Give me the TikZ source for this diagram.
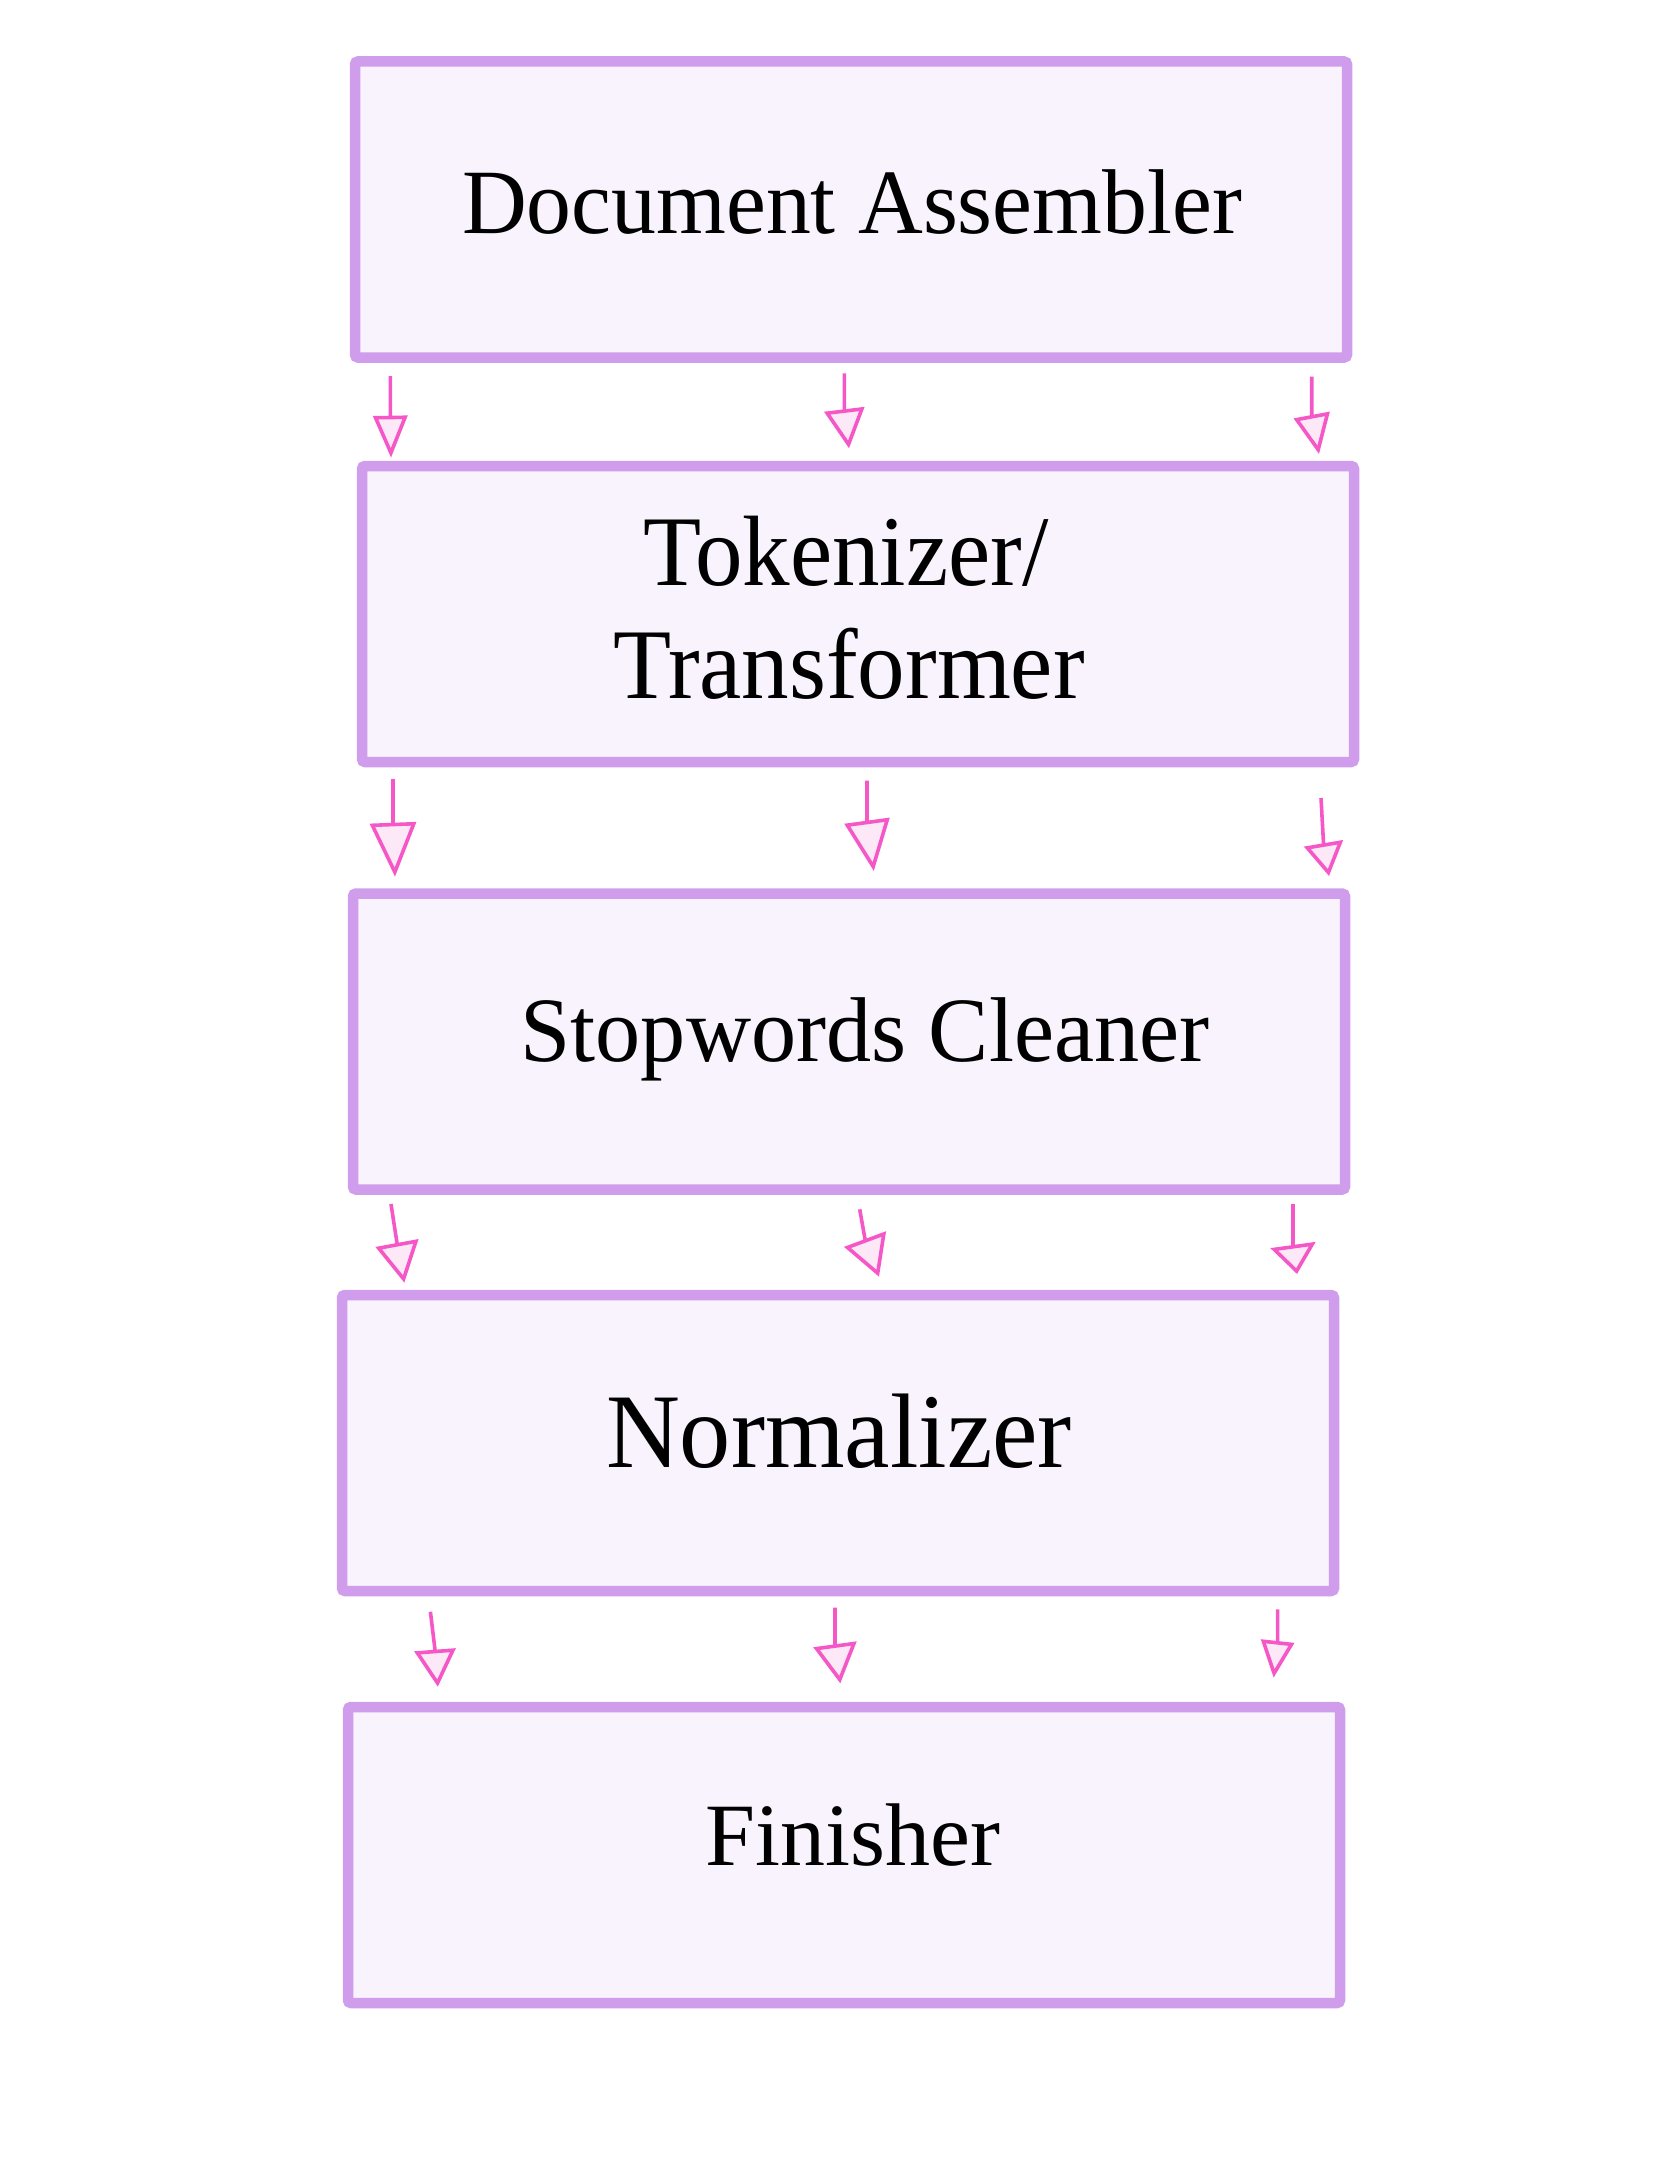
\documentclass[tikz,border=0pt]{standalone}
\usepackage{fontspec}
\usepackage{graphicx}
\setmainfont{Liberation Serif}
\usetikzlibrary{arrows.meta}
\definecolor{boxline}{RGB}{208,157,236}
\definecolor{boxfill}{RGB}{248,243,252}
\definecolor{arrowc}{RGB}{245,88,198}
\definecolor{arrowfill}{RGB}{252,232,246}
\tikzset{
  stagebox/.style={draw=boxline, fill=boxfill, line width=10.5pt, rounded corners=3pt,
    minimum width=992pt, minimum height=296pt, inner sep=0pt},
  lbl/.style={anchor=base, inner sep=0pt, text=black},
  flow/.style 2 args={draw=arrowc, line width=3.6pt,
    -{Triangle[length=#1pt, width=#2pt, fill=arrowfill]}}
}
\begin{document}
\begin{tikzpicture}[x=1pt,y=-1pt]
\useasboundingbox (0,0) rectangle (1668,2157);

% boxes
\node[stagebox] (b1) at (851,209.5) {};
\node[stagebox] (b2) at (858,614) {};
\node[stagebox] (b3) at (849,1041.5) {};
\node[stagebox] (b4) at (838,1443) {};
\node[stagebox] (b5) at (844,1855) {};

% labels
\node[lbl, font=\fontsize{92}{110}\selectfont] (t1) at (852,233) {\scalebox{0.975}[1]{Document Assembler}};
\node[lbl, font=\fontsize{100}{110}\selectfont] (t2a) at (846,585) {\scalebox{0.95}[1]{Tokenizer/}};
\node[lbl, font=\fontsize{100}{110}\selectfont] (t2b) at (849,698) {\scalebox{0.95}[1]{Transformer}};
\node[lbl, font=\fontsize{92}{110}\selectfont] (t3) at (865,1061) {\scalebox{0.98}[1]{Stopwords Cleaner}};
\node[lbl, font=\fontsize{106}{110}\selectfont] (t4) at (839,1467) {\scalebox{0.965}[1]{Normalizer}};
\node[lbl, font=\fontsize{89}{110}\selectfont] (t5) at (853,1865) {\scalebox{1.01}[1]{Finisher}};

% gap 1
\coordinate (a1s) at (390.3,376);  \coordinate (a1b) at (390.3,415.7); \coordinate (a1t) at (391,457.7);
\coordinate (a2s) at (844.3,373.3); \coordinate (a2b) at (844.3,409.3); \coordinate (a2t) at (849,448.3);
\coordinate (a3s) at (1311.7,376.7); \coordinate (a3b) at (1311.7,415); \coordinate (a3t) at (1319,454);
\draw[flow={42}{34}] (a1s) -- (a1b) -- (a1t);
\draw[flow={39.3}{40}] (a2s) -- (a2b) -- (a2t);
\draw[flow={39.7}{36}] (a3s) -- (a3b) -- (a3t);

% gap 2
\coordinate (c1s) at (393,779);  \coordinate (c1b) at (393,822.7); \coordinate (c1t) at (395,876.7);
\coordinate (c2s) at (867,780.7); \coordinate (c2b) at (867,820.7); \coordinate (c2t) at (873.8,871);
\coordinate (c3s) at (1321,798); \coordinate (c3b) at (1323.5,843.3); \coordinate (c3t) at (1329,876);
\draw[flow={54}{46}] (c1s) -- (c1b) -- (c1t);
\draw[flow={50.8}{45}] (c2s) -- (c2b) -- (c2t);
\draw[flow={33.2}{39}] (c3s) -- (c3b) -- (c3t);

% gap 3
\coordinate (e1s) at (391,1204);  \coordinate (e1b) at (397,1243); \coordinate (e1t) at (404.3,1282.7);
\coordinate (e2s) at (859.7,1209.3); \coordinate (e2b) at (865,1239); \coordinate (e2t) at (879,1276.7);
\coordinate (e3s) at (1293,1204); \coordinate (e3b) at (1293,1245); \coordinate (e3t) at (1297,1274);
\draw[flow={40.4}{43}] (e1s) -- (e1b) -- (e1t);
\draw[flow={40.2}{44}] (e2s) -- (e2b) -- (e2t);
\draw[flow={29.3}{45}] (e3s) -- (e3b) -- (e3t);

% gap 4
\coordinate (d1s) at (430.4,1611.7); \coordinate (d1b) at (435,1649.7); \coordinate (d1t) at (437.8,1686.7);
\coordinate (d2s) at (835,1607.7); \coordinate (d2b) at (835,1644.3); \coordinate (d2t) at (840.3,1683.3);
\coordinate (d3s) at (1277.6,1609.3); \coordinate (d3b) at (1277.6,1641); \coordinate (d3t) at (1273.6,1677.7);
\draw[flow={37.1}{41}] (d1s) -- (d1b) -- (d1t);
\draw[flow={39.4}{43}] (d2s) -- (d2b) -- (d2t);
\draw[flow={36.9}{33}] (d3s) -- (d3b) -- (d3t);
\end{tikzpicture}
\end{document}
